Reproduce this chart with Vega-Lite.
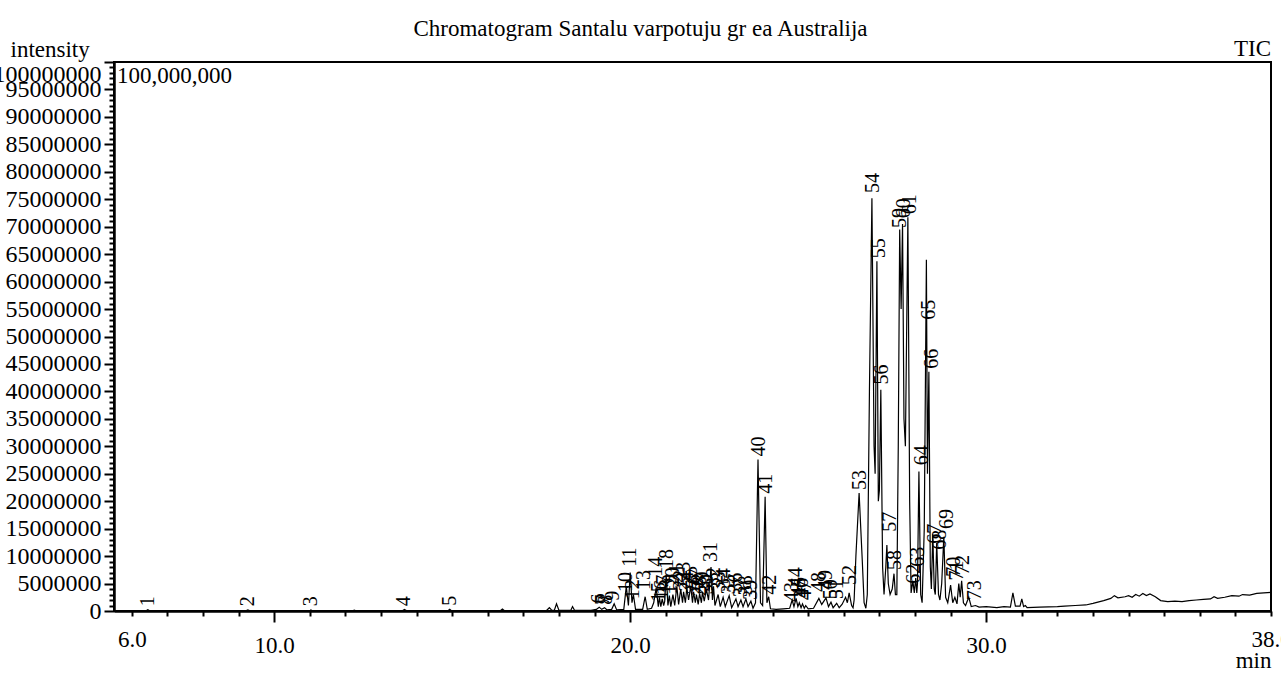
{
  "$schema": "https://vega.github.io/schema/vega-lite/v6.json",
  "autosize": {"type": "none"},
  "padding": {"left": 114, "top": 62, "right": 10, "bottom": 62},
  "width": 1157,
  "height": 549,
  "background": "white",
  "config": {"font": "Liberation Serif", "view": {"stroke": "black", "strokeWidth": 2}},
  "title": {"text": "Chromatogram Santalu varpotuju gr ea Australija", "fontSize": 23, "fontWeight": "normal", "color": "black", "anchor": "middle", "frame": "group", "dx": -52, "offset": -21, "baseline": "alphabetic"},
  "datasets": {
    "trace": [
      {"t":5.5,"i":50000},{"t":6.4,"i":50000},{"t":6.45,"i":250000},{"t":6.5,"i":50000},{"t":9.2,"i":50000},{"t":9.26,"i":200000},{"t":9.32,"i":50000},{"t":11.0,"i":50000},{"t":11.03,"i":200000},{"t":11.08,"i":50000},{"t":12.2,"i":50000},{"t":12.25,"i":150000},{"t":12.3,"i":50000},{"t":13.6,"i":50000},{"t":13.66,"i":300000},{"t":13.72,"i":50000},{"t":14.88,"i":50000},{"t":14.93,"i":300000},{"t":14.98,"i":50000},{"t":16.35,"i":60000},{"t":16.41,"i":350000},{"t":16.47,"i":60000},{"t":17.65,"i":100000},{"t":17.73,"i":600000},{"t":17.8,"i":100000},{"t":17.87,"i":150000},{"t":17.93,"i":1300000},{"t":18.0,"i":100000},{"t":18.33,"i":100000},{"t":18.38,"i":800000},{"t":18.44,"i":100000},{"t":18.9,"i":100000},{"t":19.05,"i":300000},{"t":19.13,"i":700000},{"t":19.2,"i":300000},{"t":19.28,"i":600000},{"t":19.35,"i":200000},{"t":19.48,"i":300000},{"t":19.55,"i":1300000},{"t":19.62,"i":200000},{"t":19.82,"i":300000},{"t":19.89,"i":4500000},{"t":19.95,"i":1000000},{"t":20.0,"i":7000000},{"t":20.05,"i":1500000},{"t":20.09,"i":3000000},{"t":20.15,"i":300000},{"t":20.35,"i":300000},{"t":20.42,"i":2600000},{"t":20.48,"i":300000},{"t":20.6,"i":500000},{"t":20.66,"i":1500000},{"t":20.73,"i":4200000},{"t":20.79,"i":800000},{"t":20.82,"i":2500000},{"t":20.86,"i":800000},{"t":20.9,"i":2200000},{"t":20.94,"i":1000000},{"t":20.97,"i":1800000},{"t":21.01,"i":6600000},{"t":21.06,"i":1000000},{"t":21.1,"i":2800000},{"t":21.14,"i":800000},{"t":21.2,"i":3000000},{"t":21.25,"i":1000000},{"t":21.31,"i":4500000},{"t":21.36,"i":1200000},{"t":21.42,"i":4000000},{"t":21.47,"i":1500000},{"t":21.5,"i":3500000},{"t":21.55,"i":1500000},{"t":21.59,"i":4200000},{"t":21.64,"i":2000000},{"t":21.7,"i":4500000},{"t":21.75,"i":1500000},{"t":21.78,"i":3500000},{"t":21.83,"i":1500000},{"t":21.86,"i":3000000},{"t":21.91,"i":1200000},{"t":21.95,"i":3200000},{"t":22.0,"i":1500000},{"t":22.03,"i":3500000},{"t":22.08,"i":1800000},{"t":22.14,"i":4000000},{"t":22.2,"i":2000000},{"t":22.27,"i":8000000},{"t":22.31,"i":2000000},{"t":22.34,"i":4500000},{"t":22.38,"i":1000000},{"t":22.47,"i":3000000},{"t":22.53,"i":800000},{"t":22.61,"i":2500000},{"t":22.67,"i":800000},{"t":22.78,"i":2800000},{"t":22.85,"i":600000},{"t":22.97,"i":2200000},{"t":23.03,"i":800000},{"t":23.11,"i":2000000},{"t":23.17,"i":800000},{"t":23.25,"i":2200000},{"t":23.31,"i":800000},{"t":23.39,"i":1800000},{"t":23.45,"i":500000},{"t":23.52,"i":1500000},{"t":23.59,"i":27600000},{"t":23.66,"i":1500000},{"t":23.72,"i":1000000},{"t":23.79,"i":20800000},{"t":23.84,"i":1500000},{"t":23.89,"i":2600000},{"t":23.94,"i":400000},{"t":24.1,"i":300000},{"t":24.3,"i":400000},{"t":24.48,"i":500000},{"t":24.55,"i":2000000},{"t":24.6,"i":800000},{"t":24.66,"i":2300000},{"t":24.71,"i":800000},{"t":24.75,"i":1500000},{"t":24.8,"i":600000},{"t":24.84,"i":1300000},{"t":24.89,"i":500000},{"t":24.93,"i":1000000},{"t":25.0,"i":400000},{"t":25.15,"i":500000},{"t":25.3,"i":2300000},{"t":25.38,"i":1200000},{"t":25.5,"i":2400000},{"t":25.57,"i":800000},{"t":25.64,"i":1600000},{"t":25.7,"i":600000},{"t":25.8,"i":1400000},{"t":25.87,"i":600000},{"t":25.95,"i":1200000},{"t":26.05,"i":2500000},{"t":26.1,"i":1500000},{"t":26.15,"i":3300000},{"t":26.22,"i":1000000},{"t":26.26,"i":600000},{"t":26.29,"i":2000000},{"t":26.34,"i":10000000},{"t":26.43,"i":21500000},{"t":26.52,"i":9000000},{"t":26.57,"i":1500000},{"t":26.62,"i":500000},{"t":26.66,"i":3000000},{"t":26.72,"i":40000000},{"t":26.79,"i":75200000},{"t":26.85,"i":30000000},{"t":26.88,"i":25000000},{"t":26.93,"i":63700000},{"t":26.97,"i":20000000},{"t":27.0,"i":22000000},{"t":27.04,"i":40300000},{"t":27.09,"i":8000000},{"t":27.13,"i":3000000},{"t":27.18,"i":8000000},{"t":27.21,"i":12000000},{"t":27.25,"i":5000000},{"t":27.3,"i":3000000},{"t":27.36,"i":4000000},{"t":27.41,"i":6800000},{"t":27.45,"i":3000000},{"t":27.49,"i":3000000},{"t":27.53,"i":30000000},{"t":27.57,"i":69500000},{"t":27.61,"i":55000000},{"t":27.65,"i":70500000},{"t":27.69,"i":35000000},{"t":27.73,"i":30000000},{"t":27.8,"i":71700000},{"t":27.85,"i":20000000},{"t":27.89,"i":3300000},{"t":27.94,"i":5500000},{"t":27.98,"i":3300000},{"t":28.02,"i":6000000},{"t":28.05,"i":3300000},{"t":28.07,"i":5000000},{"t":28.11,"i":25400000},{"t":28.16,"i":3000000},{"t":28.2,"i":1500000},{"t":28.26,"i":15000000},{"t":28.32,"i":64000000},{"t":28.35,"i":25000000},{"t":28.39,"i":43600000},{"t":28.43,"i":8000000},{"t":28.46,"i":4000000},{"t":28.5,"i":14000000},{"t":28.54,"i":4000000},{"t":28.57,"i":3000000},{"t":28.61,"i":12400000},{"t":28.66,"i":3000000},{"t":28.7,"i":2000000},{"t":28.75,"i":5000000},{"t":28.81,"i":13500000},{"t":28.86,"i":2500000},{"t":28.92,"i":1500000},{"t":29.0,"i":4700000},{"t":29.06,"i":1500000},{"t":29.12,"i":2500000},{"t":29.18,"i":1300000},{"t":29.23,"i":5000000},{"t":29.27,"i":2500000},{"t":29.31,"i":5500000},{"t":29.36,"i":1500000},{"t":29.42,"i":1000000},{"t":29.51,"i":2500000},{"t":29.58,"i":800000},{"t":29.7,"i":1000000},{"t":29.8,"i":700000},{"t":30.0,"i":800000},{"t":30.3,"i":600000},{"t":30.5,"i":800000},{"t":30.68,"i":700000},{"t":30.75,"i":3300000},{"t":30.82,"i":900000},{"t":30.95,"i":900000},{"t":31.0,"i":2200000},{"t":31.05,"i":800000},{"t":31.1,"i":1000000},{"t":31.15,"i":600000},{"t":31.5,"i":700000},{"t":32.0,"i":800000},{"t":32.2,"i":900000},{"t":32.5,"i":1000000},{"t":32.8,"i":1100000},{"t":33.0,"i":1400000},{"t":33.3,"i":1900000},{"t":33.5,"i":2300000},{"t":33.6,"i":2800000},{"t":33.7,"i":2400000},{"t":33.9,"i":2600000},{"t":34.0,"i":2800000},{"t":34.1,"i":2500000},{"t":34.2,"i":3000000},{"t":34.3,"i":2700000},{"t":34.4,"i":3200000},{"t":34.5,"i":2800000},{"t":34.6,"i":3100000},{"t":34.75,"i":2600000},{"t":34.9,"i":1900000},{"t":35.1,"i":1700000},{"t":35.3,"i":1800000},{"t":35.5,"i":1700000},{"t":35.7,"i":1900000},{"t":35.9,"i":2000000},{"t":36.1,"i":2100000},{"t":36.3,"i":2200000},{"t":36.4,"i":2600000},{"t":36.5,"i":2300000},{"t":36.7,"i":2500000},{"t":36.9,"i":2800000},{"t":37.1,"i":2700000},{"t":37.2,"i":3000000},{"t":37.4,"i":2900000},{"t":37.6,"i":3200000},{"t":37.8,"i":3300000},{"t":38.0,"i":3400000}
    ],
    "peaks": [
      {"n":"1","t":6.45,"i":300000},{"n":"2","t":9.26,"i":300000},{"n":"3","t":11.03,"i":300000},{"n":"4","t":13.66,"i":300000},{"n":"5","t":14.93,"i":400000},
      {"n":"6","t":19.13,"i":800000},{"n":"7","t":19.24,"i":600000},{"n":"8","t":19.33,"i":600000},{"n":"9","t":19.53,"i":1300000},{"n":"10","t":19.89,"i":2900000},
      {"n":"11","t":20.0,"i":7500000},{"n":"12","t":20.09,"i":1600000},{"n":"13","t":20.39,"i":3300000},{"n":"14","t":20.73,"i":5700000},{"n":"15","t":20.82,"i":1100000},
      {"n":"16","t":20.9,"i":1500000},{"n":"17","t":20.96,"i":2400000},{"n":"18","t":21.04,"i":7100000},{"n":"19","t":21.12,"i":2500000},{"n":"20","t":21.21,"i":3800000},
      {"n":"21","t":21.32,"i":4500000},{"n":"22","t":21.43,"i":3300000},{"n":"23","t":21.52,"i":4800000},{"n":"24","t":21.6,"i":3000000},{"n":"25","t":21.71,"i":4000000},
      {"n":"26","t":21.8,"i":2500000},{"n":"27","t":21.88,"i":3500000},{"n":"28","t":21.97,"i":2200000},{"n":"29","t":22.05,"i":3000000},{"n":"30","t":22.16,"i":2500000},
      {"n":"31","t":22.27,"i":8400000},{"n":"32","t":22.36,"i":3800000},{"n":"33","t":22.5,"i":3000000},{"n":"34","t":22.64,"i":3600000},{"n":"35","t":22.78,"i":2500000},
      {"n":"36","t":22.98,"i":2800000},{"n":"37","t":23.12,"i":2000000},{"n":"38","t":23.26,"i":2300000},{"n":"39","t":23.4,"i":1500000},{"n":"40","t":23.62,"i":27600000},
      {"n":"41","t":23.82,"i":20800000},{"n":"42","t":23.93,"i":2400000},{"n":"43","t":24.55,"i":1100000},{"n":"44","t":24.66,"i":3800000},{"n":"45","t":24.74,"i":2000000},
      {"n":"46","t":24.83,"i":1800000},{"n":"47","t":24.91,"i":1400000},{"n":"48","t":25.3,"i":2900000},{"n":"49","t":25.5,"i":3300000},{"n":"50","t":25.64,"i":1600000},
      {"n":"51","t":25.81,"i":1600000},{"n":"52","t":26.17,"i":4200000},{"n":"53","t":26.45,"i":21500000},{"n":"54","t":26.82,"i":75600000},{"n":"55","t":26.99,"i":63700000},
      {"n":"56","t":27.07,"i":40700000},{"n":"57","t":27.3,"i":13900000},{"n":"58","t":27.44,"i":6900000},{"n":"59","t":27.58,"i":69200000},{"n":"60","t":27.69,"i":71000000},
      {"n":"61","t":27.86,"i":71700000},{"n":"62","t":27.97,"i":4400000},{"n":"63","t":28.08,"i":7500000},{"n":"64","t":28.19,"i":26000000},{"n":"65","t":28.39,"i":52500000},
      {"n":"66","t":28.47,"i":43600000},{"n":"67","t":28.56,"i":11700000},{"n":"68","t":28.7,"i":10600000},{"n":"69","t":28.89,"i":14400000},{"n":"70","t":29.09,"i":5700000},
      {"n":"71","t":29.17,"i":5000000},{"n":"72","t":29.34,"i":6000000},{"n":"73","t":29.68,"i":1400000}
    ],
    "notes": [
      {"txt":"TIC","t":38,"i":100000000,"side":"right"},
      {"txt":"100,000,000","t":5.5,"i":100000000,"side":"left"}
    ]
  },
  "encoding": {
    "x": {
      "field": "t", "type": "quantitative",
      "scale": {"domain": [5.5, 38], "nice": false, "zero": false},
      "axis": {
        "values": [6,7,8,9,10,11,12,13,14,15,16,17,18,19,20,21,22,23,24,25,26,27,28,29,30,31,32,33,34,35,36,37,38],
        "labelExpr": "indexof([6,10,20,30,38], datum.value) >= 0 ? format(datum.value, '.1f') : ''",
        "labelOverlap": false, "labelBound": false, "labelFlush": false,
        "labelFontSize": 23, "labelColor": "black", "labelPadding": 12,
        "tickSize": {"condition": {"test": "datum.value % 10 === 0", "value": 11}, "value": 5},
        "tickWidth": 2, "tickColor": "black",
        "domainColor": "black", "domainWidth": 2.5, "grid": false,
        "title": "min", "titleFontSize": 23, "titleFontWeight": "normal", "titleColor": "black",
        "titleAnchor": "end", "titleAlign": "right", "titleBaseline": "alphabetic", "titleX": 1157, "titleY": 56
      }
    },
    "y": {
      "field": "i", "type": "quantitative",
      "scale": {"domain": [0, 100000000], "nice": false},
      "axis": {
        "tickCount": 100,
        "labelExpr": "datum.value % 5000000 === 0 ? format(datum.value, 'd') : ''",
        "labelOverlap": false, "labelBound": false, "labelFlush": false,
        "labelFontSize": 24, "labelColor": "black", "labelPadding": 3,
        "labelOffset": {"condition": {"test": "datum.value === 100000000", "value": 12}, "value": 0},
        "tickSize": {"condition": {"test": "datum.value % 5000000 === 0", "value": 10}, "value": 5},
        "tickWidth": 2, "tickColor": "black",
        "domainColor": "black", "domainWidth": 2.5, "grid": false,
        "title": "intensity", "titleFontSize": 23, "titleFontWeight": "normal", "titleColor": "black",
        "titleAngle": 0, "titleAlign": "left", "titleBaseline": "alphabetic", "titleX": -104, "titleY": -6
      }
    }
  },
  "layer": [
    {
      "data": {"name": "trace"},
      "mark": {"type": "line", "color": "black", "strokeWidth": 1.2, "clip": true}
    },
    {
      "data": {"name": "peaks"},
      "mark": {"type": "text", "angle": 270, "align": "left", "baseline": "middle", "dx": 3, "fontSize": 20, "color": "black"},
      "encoding": {"text": {"field": "n"}}
    },
    {
      "data": {"name": "notes"},
      "transform": [{"filter": "datum.side === 'right'"}],
      "mark": {"type": "text", "align": "right", "baseline": "alphabetic", "dy": -6, "fontSize": 23, "color": "black"},
      "encoding": {"text": {"field": "txt"}}
    },
    {
      "data": {"name": "notes"},
      "transform": [{"filter": "datum.side === 'left'"}],
      "mark": {"type": "text", "align": "left", "baseline": "top", "dx": 3, "dy": 3, "fontSize": 23, "color": "black"},
      "encoding": {"text": {"field": "txt"}}
    }
  ]
}
